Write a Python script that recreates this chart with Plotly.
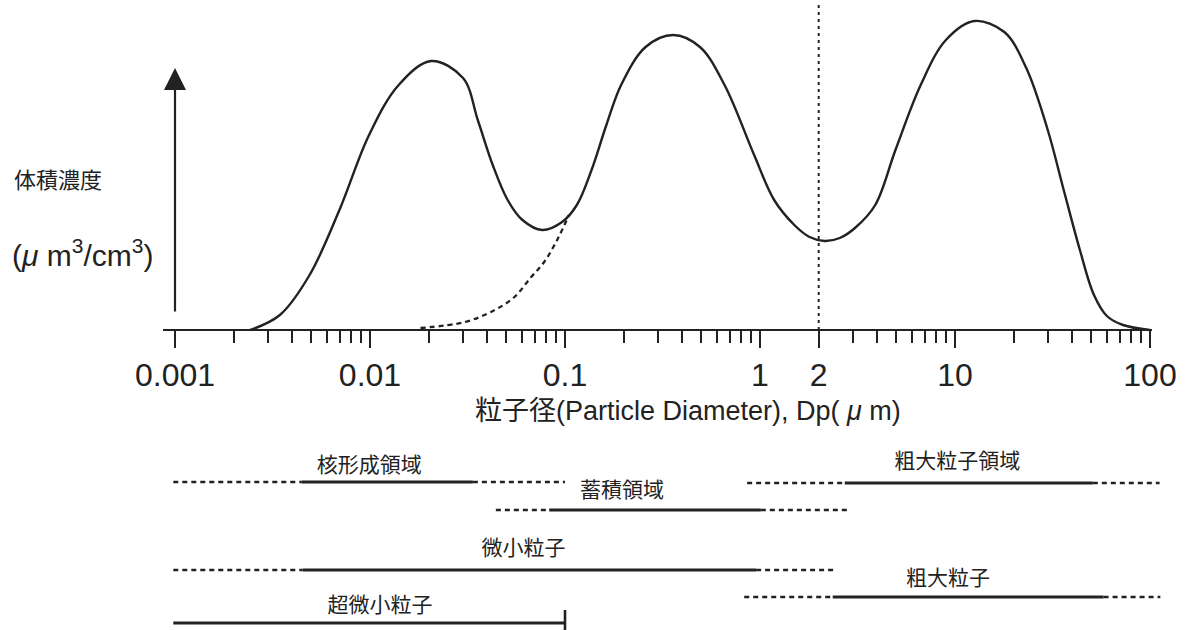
import plotly.graph_objects as go

# ---------------- data ----------------
# main volume-size distribution (diameter in µm, relative volume concentration)
curve_dp = [0.00243, 0.00345, 0.0049, 0.00697, 0.00989, 0.01403, 0.0206, 0.030,
            0.0357, 0.0426, 0.0508, 0.0605, 0.0764, 0.0966, 0.115, 0.1368, 0.163,
            0.194, 0.259, 0.359, 0.492, 0.658, 0.933, 1.182, 1.50, 1.795, 2.146,
            2.566, 3.07, 3.90, 4.95, 6.67, 8.98, 12.57, 17.9, 23.2, 29.9, 36.1,
            43.7, 51.6, 60.1, 72.7, 100]
curve_v = [0, 15, 55, 120, 195, 245, 269, 252,
           210, 165, 130, 110, 100, 108, 125, 160, 205,
           245, 283, 295, 283, 245, 175, 130, 105, 93, 89,
           92, 102, 125, 180, 245, 290, 309, 298, 262, 200, 140,
           80, 35, 14, 5, 0]

# dashed tail of the accumulation mode
tail_dp = [0.01815, 0.0307, 0.0436, 0.0551, 0.0664, 0.0782, 0.0911, 0.1048]
tail_v = [2, 8, 20, 33, 52, 68, 90, 115]

# fine / coarse boundary
boundary_dp = 2
boundary_top = 325

# axis ticks
major_ticks = [0.001, 0.01, 0.1, 1, 2, 10, 100]
major_text = ["0.001", "0.01", "0.1", "1", "2", "10", "100"]
minor_ticks = [k * 10.0 ** d for d in range(-3, 2) for k in range(2, 10) if not (d == 0 and k == 2)]

# size ranges (dashed low, solid low, solid high, dashed high), µm
regions = ["核形成領域", "蓄積領域", "粗大粒子領域", "微小粒子", "粗大粒子", "超微小粒子"]
dash_lo = [0.00098, 0.0442, 0.859, 0.00098, 0.830, None]
solid_lo = [0.00447, 0.083, 2.72, 0.00452, 2.36, 0.00098]
solid_hi = [0.0337, 1.01, 50.9, 0.955, 57.8, 0.1]
dash_hi = [0.1, 2.82, 112, 2.42, 113, None]
label_dp = [0.0099, 0.196, 10.26, 0.0612, 9.2, 0.01124]

# ---------------- layout helpers ----------------
row_y = [-152, -180, -153, -240, -267, -293]
label_y = [-137, -162, -133, -220, -250, -277]

INK = "#222222"
FONT = "Liberation Sans, Arial, Noto Sans CJK JP, sans-serif"
W, H = 1192, 630
PX_DEC = 195.0
X0_PX = 175.0  # pixel of 0.001
ax_l, ax_r = 163, 1152


def lg(px):
    return -3 + (px - X0_PX) / PX_DEC


fig = go.Figure()

# main curve
fig.add_trace(go.Scatter(x=curve_dp, y=curve_v, mode="lines",
                         line=dict(color=INK, width=2.4, shape="spline", smoothing=1.0),
                         xaxis="x", yaxis="y", hoverinfo="skip"))
# dashed tail
fig.add_trace(go.Scatter(x=tail_dp, y=tail_v, mode="lines",
                         line=dict(color=INK, width=2.3, dash="5px,4px", shape="spline"),
                         xaxis="x", yaxis="y", hoverinfo="skip"))
# boundary at 2 µm
fig.add_trace(go.Scatter(x=[boundary_dp, boundary_dp], y=[boundary_top, 0], mode="lines",
                         line=dict(color=INK, width=2, dash="3px,4px"),
                         xaxis="x", yaxis="y", hoverinfo="skip"))

# size-range bars
for i, name in enumerate(regions):
    y = row_y[i]
    if dash_lo[i] is not None:
        fig.add_trace(go.Scatter(x=[dash_lo[i], solid_lo[i]], y=[y, y], mode="lines",
                                 line=dict(color=INK, width=2.6, dash="5px,4px"),
                                 xaxis="x2", yaxis="y", hoverinfo="skip"))
    fig.add_trace(go.Scatter(x=[solid_lo[i], solid_hi[i]], y=[y, y], mode="lines",
                             line=dict(color=INK, width=2.8),
                             xaxis="x2", yaxis="y", hoverinfo="skip"))
    if dash_hi[i] is not None:
        fig.add_trace(go.Scatter(x=[solid_hi[i], dash_hi[i]], y=[y, y], mode="lines",
                                 line=dict(color=INK, width=2.6, dash="5px,4px"),
                                 xaxis="x2", yaxis="y", hoverinfo="skip"))
    else:
        fig.add_trace(go.Scatter(x=[solid_hi[i], solid_hi[i]], y=[y + 13, y - 13], mode="lines",
                                 line=dict(color=INK, width=2.6),
                                 xaxis="x2", yaxis="y", hoverinfo="skip"))
    fig.add_trace(go.Scatter(x=[label_dp[i]], y=[label_y[i]], mode="text", text=[name],
                             textposition="middle center",
                             textfont=dict(family=FONT, size=21, color=INK),
                             xaxis="x2", yaxis="y", hoverinfo="skip"))

# y arrow
fig.add_annotation(x=-3, y=262, ax=-3, ay=17, xref="x", yref="y", axref="x", ayref="y",
                   text="", showarrow=True, arrowhead=2, arrowsize=2.0, arrowwidth=2.2,
                   arrowcolor=INK, standoff=0)

# y label
fig.add_annotation(x=12 / W, y=1 - 180 / H, xref="paper", yref="paper", text="体積濃度",
                   showarrow=False, xanchor="left", yanchor="middle",
                   font=dict(family=FONT, size=22, color=INK))
fig.add_annotation(x=10 / W, y=1 - 253 / H, xref="paper", yref="paper",
                   text="(<i>μ</i> m<sup>3</sup>/cm<sup>3</sup>)",
                   showarrow=False, xanchor="left", yanchor="middle",
                   font=dict(family=FONT, size=30, color=INK))
# x title
fig.add_annotation(x=688 / W, y=1 - 411 / H, xref="paper", yref="paper",
                   text="粒子径(Particle Diameter), Dp( <i>μ</i> m)",
                   showarrow=False, xanchor="center", yanchor="middle",
                   font=dict(family=FONT, size=27, color=INK))

fig.update_layout(
    template="none",
    width=W, height=H, autosize=False,
    margin=dict(l=0, r=0, t=0, b=0, pad=0, autoexpand=False),
    paper_bgcolor="white", plot_bgcolor="rgba(0,0,0,0)",
    showlegend=False,
    xaxis=dict(type="log", domain=[ax_l / W, ax_r / W], range=[lg(ax_l), lg(ax_r)],
               anchor="free", position=300 / 630, automargin=False,
               showline=True, linecolor=INK, linewidth=2,
               tickmode="array", tickvals=major_ticks, ticktext=major_text,
               ticks="outside", ticklen=17, tickwidth=2, tickcolor=INK,
               tickfont=dict(family=FONT, size=32, color=INK),
               minor=dict(tickmode="array", tickvals=minor_ticks, ticks="outside",
                          ticklen=12, tickwidth=2, tickcolor=INK, showgrid=False),
               showgrid=False, zeroline=False, fixedrange=True),
    xaxis2=dict(type="log", domain=[0, 1], range=[lg(0), lg(W)], anchor="y",
                automargin=False, visible=False, showgrid=False, zeroline=False),
    yaxis=dict(domain=[0, 1], range=[-300, 330], visible=False, automargin=False,
               showgrid=False, zeroline=False),
)

fig.write_html("out.html", config={"displayModeBar": False},
               post_script="document.body.style.margin='0';")
